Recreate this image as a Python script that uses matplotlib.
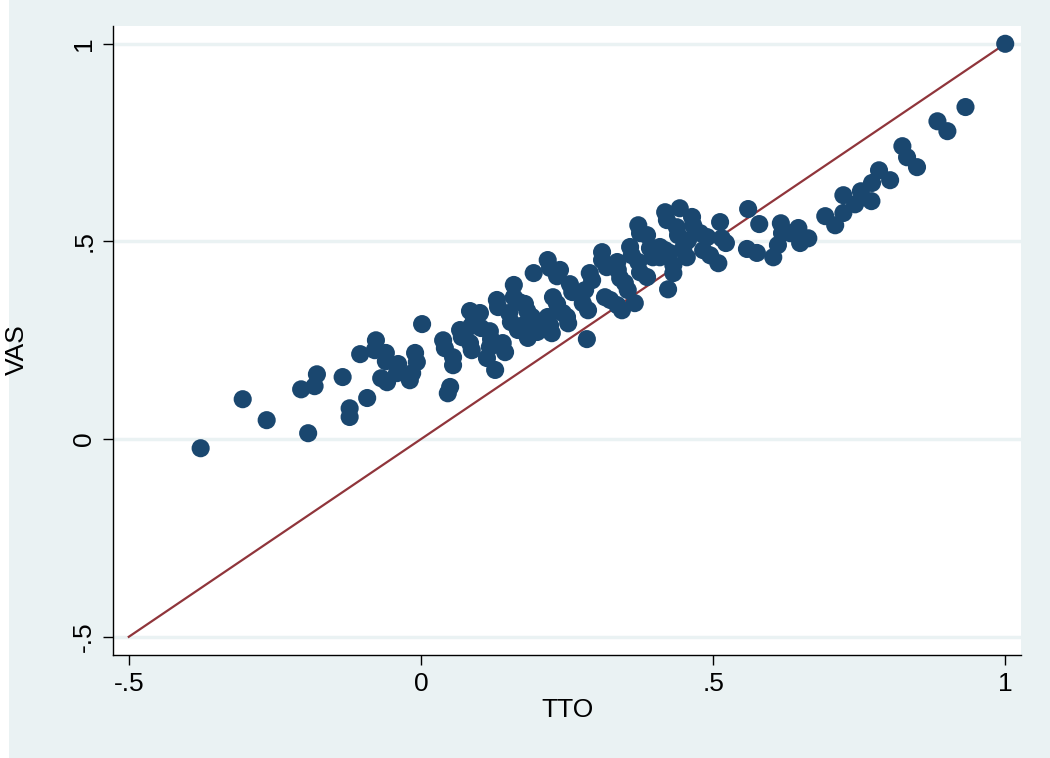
import matplotlib
matplotlib.use('Agg')
import matplotlib.pyplot as plt
from matplotlib.patches import Rectangle

# TTO and VAS values
tto = [-0.377, -0.305, -0.264, -0.205, -0.193, -0.182, -0.178, -0.134, -0.104, -0.122,
       -0.122, -0.092, -0.077, -0.079, -0.060, -0.060, -0.068, -0.058, -0.039, -0.041,
       -0.019, -0.015, -0.010, -0.007, 0.002, 0.038, 0.041, 0.046, 0.050, 0.055,
       0.055, 0.067, 0.070, 0.084, 0.091, 0.086, 0.101, 0.103, 0.084, 0.087,
       0.118, 0.120, 0.118, 0.113, 0.127, 0.130, 0.132, 0.140, 0.144, 0.151,
       0.154, 0.159, 0.159, 0.168, 0.166, 0.175, 0.178, 0.182, 0.183, 0.190,
       0.199, 0.199, 0.193, 0.217, 0.221, 0.233, 0.226, 0.233, 0.217, 0.221,
       0.224, 0.238, 0.243, 0.255, 0.259, 0.250, 0.252, 0.281, 0.289, 0.293,
       0.277, 0.286, 0.284, 0.310, 0.310, 0.318, 0.336, 0.337, 0.341, 0.315,
       0.324, 0.336, 0.344, 0.349, 0.354, 0.358, 0.361, 0.372, 0.375, 0.372,
       0.375, 0.387, 0.392, 0.397, 0.387, 0.366, 0.409, 0.409, 0.418, 0.421,
       0.443, 0.438, 0.440, 0.418, 0.426, 0.432, 0.432, 0.423, 0.449, 0.455,
       0.464, 0.466, 0.457, 0.478, 0.490, 0.512, 0.515, 0.522, 0.483, 0.495,
       0.509, 0.560, 0.579, 0.558, 0.575, 0.616, 0.618, 0.632, 0.646, 0.663,
       0.649, 0.611, 0.603, 0.692, 0.709, 0.723, 0.723, 0.743, 0.753, 0.771,
       0.772, 0.784, 0.803, 0.824, 0.832, 0.849, 0.884, 0.901, 0.932, 1.000]
vas = [-0.023, 0.101, 0.048, 0.126, 0.015, 0.134, 0.164, 0.157, 0.215, 0.078,
       0.056, 0.104, 0.250, 0.225, 0.218, 0.197, 0.154, 0.144, 0.190, 0.167,
       0.149, 0.167, 0.218, 0.195, 0.291, 0.250, 0.230, 0.116, 0.132, 0.207,
       0.187, 0.276, 0.258, 0.324, 0.304, 0.286, 0.319, 0.281, 0.243, 0.225,
       0.273, 0.253, 0.233, 0.205, 0.175, 0.352, 0.334, 0.243, 0.220, 0.319,
       0.296, 0.390, 0.359, 0.347, 0.276, 0.288, 0.342, 0.324, 0.256, 0.309,
       0.296, 0.271, 0.420, 0.453, 0.433, 0.412, 0.359, 0.342, 0.309, 0.288,
       0.268, 0.428, 0.319, 0.392, 0.372, 0.309, 0.293, 0.377, 0.420, 0.402,
       0.344, 0.326, 0.253, 0.473, 0.453, 0.435, 0.448, 0.428, 0.407, 0.359,
       0.352, 0.339, 0.326, 0.395, 0.377, 0.486, 0.465, 0.541, 0.521, 0.448,
       0.422, 0.516, 0.483, 0.460, 0.410, 0.344, 0.486, 0.460, 0.574, 0.554,
       0.584, 0.536, 0.516, 0.478, 0.471, 0.440, 0.420, 0.379, 0.483, 0.460,
       0.562, 0.541, 0.503, 0.521, 0.511, 0.549, 0.508, 0.496, 0.478, 0.465,
       0.445, 0.582, 0.544, 0.481, 0.471, 0.546, 0.521, 0.521, 0.534, 0.508,
       0.496, 0.491, 0.460, 0.564, 0.541, 0.572, 0.617, 0.594, 0.627, 0.602,
       0.648, 0.680, 0.655, 0.741, 0.713, 0.688, 0.804, 0.779, 0.840, 1.000]

ticks = [-0.5, 0, 0.5, 1]
tick_labels = ['-.5', '0', '.5', '1']

bg = '#eaf2f3'
plt.rcParams['font.family'] = ['Liberation Sans', 'DejaVu Sans']

fig = plt.figure(figsize=(10.5, 7.58), dpi=100)
fig.patch.set_facecolor('white')
fig.add_artist(Rectangle((9 / 1050, 0), 1, 1, transform=fig.transFigure,
                         facecolor=bg, edgecolor='none', zorder=-10))
ax = fig.add_axes([113 / 1050, 1 - 655 / 758, 908 / 1050, 629 / 758])
ax.set_facecolor('white')

for t in ticks:
    ax.axhline(t, color=bg, lw=2.5, zorder=0)

ax.plot([-0.5, 1], [-0.5, 1], color='#90353b', lw=1.6, zorder=2)
ax.scatter(tto, vas, s=170, color='#1a476f', edgecolors='none', zorder=3)

ax.set_xlim(-0.527, 1.027)
ax.set_ylim(-0.546, 1.045)
ax.set_xticks(ticks)
ax.set_xticklabels(tick_labels)
ax.set_yticks(ticks)
ax.set_yticklabels(tick_labels, rotation=90, va='center')
ax.tick_params(length=7, width=1, labelsize=19, pad=5, colors='black')

for s in ['top', 'right']:
    ax.spines[s].set_visible(False)
for s in ['left', 'bottom']:
    ax.spines[s].set_linewidth(1)

ax.set_xlabel('TTO', fontsize=19, labelpad=2)
ax.set_ylabel('VAS', fontsize=19)
ax.yaxis.set_label_coords(-0.093, 0.485)

fig.savefig('out.png', dpi=100, facecolor=fig.get_facecolor())
